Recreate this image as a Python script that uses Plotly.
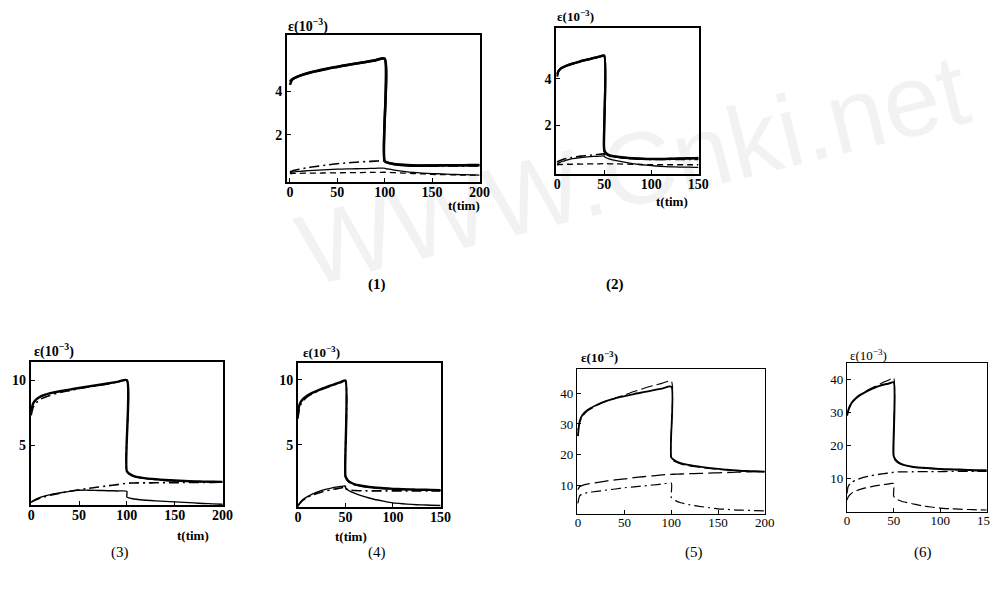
import plotly.graph_objects as go

W, H = 998, 594
OFF = 8  # page body margin that offsets the figure in the browser

# ---------------- data ----------------
# time grids (load then unload; repeated time marks the unloading jump)
T_200 = [0, 2, 5, 10, 20, 30, 40, 50, 60, 70, 80, 90, 100, 100, 105, 110, 120, 130, 140, 150, 160, 170, 180, 190, 200]
T_150 = [0, 1, 3, 5, 10, 15, 20, 25, 30, 35, 40, 45, 50, 50, 52, 55, 60, 70, 80, 90, 100, 110, 120, 130, 140, 150]

# panel (1)
E1_total = [4.3, 4.52, 4.62, 4.72, 4.86, 4.97, 5.06, 5.14, 5.22, 5.29, 5.36, 5.43, 5.5, 0.8, 0.7, 0.65, 0.6, 0.58, 0.58, 0.59, 0.6, 0.6, 0.6, 0.61, 0.61]
E1_model = [4.45, 4.55, 4.63, 4.72, 4.85, 4.95, 5.05, 5.13, 5.21, 5.29, 5.36, 5.44, 5.52, 0.78, 0.7, 0.66, 0.62, 0.6, 0.59, 0.59, 0.6, 0.6, 0.6, 0.6, 0.6]
E1_visc = [0.3, 0.33, 0.37, 0.42, 0.5, 0.56, 0.62, 0.67, 0.71, 0.74, 0.77, 0.79, 0.81, 0.79, 0.72, 0.66, 0.6, 0.57, 0.56, 0.56, 0.56, 0.57, 0.57, 0.57, 0.57]
E1_ve = [0.25, 0.28, 0.3, 0.32, 0.35, 0.38, 0.4, 0.42, 0.43, 0.44, 0.45, 0.46, 0.47, 0.46, 0.42, 0.38, 0.32, 0.27, 0.24, 0.22, 0.2, 0.18, 0.17, 0.16, 0.15]
E1_dash = [0.22, 0.22, 0.23, 0.23, 0.24, 0.24, 0.25, 0.25, 0.26, 0.26, 0.27, 0.27, 0.28, 0.28, 0.27, 0.26, 0.24, 0.22, 0.2, 0.18, 0.17, 0.16, 0.15, 0.15, 0.15]

# panel (2)
E2_total = [4.1, 4.3, 4.42, 4.48, 4.58, 4.65, 4.71, 4.77, 4.82, 4.87, 4.92, 4.97, 5.02, 0.95, 0.8, 0.72, 0.67, 0.62, 0.58, 0.56, 0.55, 0.55, 0.56, 0.57, 0.58, 0.6]
E2_model = [4.2, 4.32, 4.42, 4.48, 4.57, 4.64, 4.7, 4.76, 4.81, 4.86, 4.91, 4.96, 5.0, 0.9, 0.78, 0.7, 0.66, 0.61, 0.57, 0.55, 0.54, 0.54, 0.55, 0.56, 0.57, 0.58]
E2_visc = [0.4, 0.44, 0.48, 0.52, 0.57, 0.61, 0.64, 0.67, 0.69, 0.71, 0.73, 0.75, 0.77, 0.75, 0.72, 0.68, 0.64, 0.59, 0.56, 0.54, 0.53, 0.53, 0.53, 0.53, 0.53, 0.53]
E2_ve = [0.3, 0.35, 0.4, 0.44, 0.5, 0.55, 0.58, 0.61, 0.63, 0.65, 0.66, 0.67, 0.68, 0.66, 0.6, 0.55, 0.5, 0.42, 0.35, 0.3, 0.26, 0.23, 0.21, 0.2, 0.2, 0.19]
E2_dash = [0.3, 0.3, 0.31, 0.31, 0.32, 0.32, 0.33, 0.33, 0.33, 0.34, 0.34, 0.34, 0.35, 0.35, 0.35, 0.34, 0.34, 0.33, 0.32, 0.31, 0.3, 0.3, 0.3, 0.3, 0.3, 0.3]

# panel (3)
E3_total = [7.6, 8.2, 8.5, 8.75, 9.0, 9.15, 9.28, 9.4, 9.52, 9.63, 9.75, 9.87, 10.0, 3.0, 2.7, 2.56, 2.45, 2.38, 2.32, 2.28, 2.25, 2.22, 2.2, 2.19, 2.18]
E3_model = [7.3, 7.9, 8.25, 8.55, 8.85, 9.05, 9.2, 9.35, 9.48, 9.6, 9.72, 9.85, 9.97, 2.95, 2.68, 2.55, 2.44, 2.37, 2.3, 2.26, 2.23, 2.21, 2.19, 2.17, 2.16]
E3_visc = [0.62, 0.7, 0.8, 0.95, 1.15, 1.3, 1.45, 1.57, 1.68, 1.78, 1.88, 1.97, 2.08, 2.08, 2.09, 2.1, 2.1, 2.11, 2.12, 2.12, 2.13, 2.13, 2.14, 2.14, 2.15]
E3_ve = [0.62, 0.72, 0.85, 1.0, 1.2, 1.33, 1.45, 1.53, 1.54, 1.52, 1.5, 1.48, 1.45, 1.0, 0.9, 0.84, 0.77, 0.72, 0.68, 0.64, 0.6, 0.56, 0.52, 0.49, 0.46]

# panel (4)
E4_total = [7.3, 7.9, 8.3, 8.5, 8.8, 9.0, 9.15, 9.3, 9.45, 9.58, 9.7, 9.82, 9.95, 2.6, 2.3, 2.1, 1.95, 1.8, 1.7, 1.65, 1.6, 1.57, 1.55, 1.53, 1.52, 1.5]
E4_model = [7.0, 7.6, 8.1, 8.35, 8.7, 8.92, 9.1, 9.25, 9.4, 9.54, 9.67, 9.8, 9.93, 2.5, 2.25, 2.05, 1.9, 1.77, 1.68, 1.63, 1.58, 1.56, 1.54, 1.52, 1.5, 1.49]
E4_visc = [0.3, 0.4, 0.55, 0.7, 0.95, 1.12, 1.25, 1.36, 1.45, 1.53, 1.6, 1.66, 1.72, 1.62, 1.55, 1.5, 1.47, 1.45, 1.44, 1.44, 1.44, 1.44, 1.44, 1.44, 1.44, 1.44]
E4_ve = [0.25, 0.4, 0.6, 0.75, 1.0, 1.2, 1.35, 1.48, 1.58, 1.66, 1.73, 1.78, 1.82, 1.7, 1.55, 1.4, 1.25, 1.0, 0.8, 0.65, 0.52, 0.45, 0.4, 0.36, 0.34, 0.32]

# panel (5)
E5_total = [26.0, 31.0, 33.0, 34.5, 36.2, 37.5, 38.4, 39.1, 39.8, 40.4, 41.0, 41.6, 42.2, 19.0, 17.8, 17.2, 16.5, 16.0, 15.6, 15.3, 15.0, 14.8, 14.6, 14.5, 14.4]
E5_model = [28.0, 30.5, 32.5, 34.2, 36.0, 37.4, 38.5, 39.5, 40.6, 41.6, 42.5, 43.3, 44.0, 18.5, 17.5, 16.9, 16.2, 15.8, 15.4, 15.1, 14.9, 14.7, 14.5, 14.4, 14.3]
E5_dash = [8.5, 9.5, 9.9, 10.3, 10.8, 11.3, 11.7, 12.0, 12.4, 12.7, 13.0, 13.3, 13.5, 13.5, 13.55, 13.6, 13.7, 13.8, 13.9, 14.0, 14.1, 14.2, 14.3, 14.35, 14.4]
E5_dd = [4.0, 6.5, 7.1, 7.5, 7.9, 8.3, 8.7, 9.1, 9.4, 9.7, 10.0, 10.3, 10.6, 5.8, 4.8, 4.2, 3.5, 3.0, 2.6, 2.2, 2.0, 1.8, 1.7, 1.6, 1.5]

# panel (6)
E6_total = [29.2, 30.5, 32.0, 33.0, 34.5, 35.5, 36.3, 37.0, 37.6, 38.1, 38.5, 38.8, 39.2, 17.0, 15.8, 15.0, 14.3, 13.7, 13.4, 13.2, 13.0, 12.9, 12.8, 12.7, 12.6, 12.6]
E6_model = [29.0, 30.3, 31.8, 32.9, 34.4, 35.5, 36.4, 37.2, 37.9, 38.6, 39.3, 39.9, 40.5, 16.5, 15.5, 14.8, 14.2, 13.6, 13.3, 13.1, 12.9, 12.8, 12.7, 12.6, 12.5, 12.5]
E6_dd = [5.6, 7.6, 8.5, 9.0, 9.7, 10.2, 10.6, 10.9, 11.2, 11.4, 11.6, 11.8, 12.0, 12.0, 12.05, 12.1, 12.1, 12.15, 12.2, 12.2, 12.2, 12.25, 12.25, 12.3, 12.3, 12.3]
E6_dash = [3.6, 4.5, 5.2, 5.7, 6.4, 6.9, 7.3, 7.6, 7.9, 8.1, 8.3, 8.5, 8.6, 4.8, 4.2, 3.6, 3.1, 2.5, 1.9, 1.5, 1.2, 1.0, 0.85, 0.75, 0.65, 0.6]

# ticks and labels
X_TICKS_200 = [0, 50, 100, 150, 200]
X_TICKS_150 = [0, 50, 100, 150]
Y_TICKS = {1: [2, 4], 2: [2, 4], 3: [5, 10], 4: [5, 10], 5: [10, 20, 30, 40], 6: [10, 20, 30, 40]}
PANEL_LABELS = ["(1)", "(2)", "(3)", "(4)", "(5)", "(6)"]
Y_TITLE = "ε(10<sup>−3</sup>)"
X_TITLE = "t(tim)"
WATERMARK = "WWW.Cnki.net"

# ---------------- layout geometry (pixels, window coordinates) ----------------
frames = {1: (287, 483, 35, 182), 2: (560, 705, 28, 174), 3: (27, 222, 362, 505),
          4: (298, 443, 363, 507), 5: (581, 772, 369, 514), 6: (855, 997, 363, 512)}
xranges = {1: [-3, 201], 2: [-1, 151], 3: [-0.5, 200.5], 4: [0, 150.5], 5: [-1, 200.5], 6: [0, 150.5]}
yranges = {1: [-0.17, 6.6], 2: [-0.1, 6.2], 3: [0.4, 11.4], 4: [0.2, 11.3], 5: [0.5, 48], 6: [0, 45]}

def px(x):
    return (x - OFF) / W

def py(y):
    return 1 - (y - OFF) / H

fig = go.Figure()

def add(k, t, y, dash="solid", width=1.5):
    fig.add_trace(go.Scatter(x=t, y=y, mode="lines", xaxis=f"x{k}", yaxis=f"y{k}",
                             line=dict(color="black", width=width, dash=dash, shape="spline", smoothing=0.6),
                             showlegend=False, hoverinfo="skip"))

DD = "10px,4px,2px,4px"
# (1)
add(1, T_200, E1_dash, "6px,4px", 1.3)
add(1, T_200, E1_ve, "solid", 1.3)
add(1, T_200, E1_visc, DD, 1.6)
add(1, T_200, E1_model, "solid", 2.5)
add(1, T_200, E1_total, "solid", 2.5)
# (2)
add(2, T_150, E2_dash, "6px,4px", 1.3)
add(2, T_150, E2_ve, "solid", 1.3)
add(2, T_150, E2_visc, DD, 1.6)
add(2, T_150, E2_model, "solid", 2.3)
add(2, T_150, E2_total, "solid", 2.3)
# (3)
add(3, T_200, E3_ve, "solid", 1.4)
add(3, T_200, E3_visc, DD, 1.6)
add(3, T_200, E3_model, DD, 1.6)
add(3, T_200, E3_total, "solid", 2.4)
# (4)
add(4, T_150, E4_ve, "solid", 1.4)
add(4, T_150, E4_visc, DD, 1.6)
add(4, T_150, E4_model, DD, 1.6)
add(4, T_150, E4_total, "solid", 2.4)
# (5)
add(5, T_200, E5_dd, DD, 1.2)
add(5, T_200, E5_dash, "14px,5px", 1.3)
add(5, T_200, E5_model, "12px,4px", 1.1)
add(5, T_200, E5_total, "solid", 1.8)
# (6)
add(6, T_150, E6_dash, "10px,4px", 1.2)
add(6, T_150, E6_dd, DD, 1.3)
add(6, T_150, E6_model, "12px,4px", 1.1)
add(6, T_150, E6_total, "solid", 2.0)

layout = dict(width=W, height=H, margin=dict(l=0, r=0, t=0, b=0),
              paper_bgcolor="white", plot_bgcolor="rgba(0,0,0,0)", showlegend=False)

for k, (x0, x1, y0, y1) in frames.items():
    bold = k <= 4
    tf = dict(family="Liberation Serif", size=14 if bold else 13, color="black",
              weight="bold" if bold else "normal")
    lw = 2 if bold else 1.4
    xt = X_TICKS_200 if xranges[k][1] > 160 else X_TICKS_150
    layout[f"xaxis{k}"] = dict(domain=[px(x0), px(x1)], range=xranges[k], anchor=f"y{k}",
                               showline=True, mirror=True, linecolor="black", linewidth=lw,
                               ticks="inside", ticklen=4, tickwidth=1.3, tickcolor="black",
                               ticklabelstandoff=-4,
                               tickvals=xt, tickfont=tf, showgrid=False, zeroline=False, fixedrange=True)
    layout[f"yaxis{k}"] = dict(domain=[py(y1), py(y0)], range=yranges[k], anchor=f"x{k}",
                               showline=True, mirror=True, linecolor="black", linewidth=lw,
                               ticks="inside", ticklen=4, tickwidth=1.3, tickcolor="black",
                               tickvals=Y_TICKS[k], tickfont=tf, showgrid=False, zeroline=False, fixedrange=True)

ann = []
def txt(x, y, s, size=13, bold=True, color="black"):
    ann.append(dict(x=px(x), y=py(y), xref="paper", yref="paper", text=s, showarrow=False,
                    xanchor="center", yanchor="middle",
                    font=dict(family="Liberation Serif", size=size, color=color,
                              weight="bold" if bold else "normal")))

# watermark (faint)
ann.append(dict(x=px(638), y=py(170), xref="paper", yref="paper", text=WATERMARK,
                showarrow=False, textangle=-14, xanchor="center", yanchor="middle",
                font=dict(family="Liberation Sans", size=102, color="rgba(0,0,0,0.05)")))

# y titles
txt(308, 25, Y_TITLE, 14)
txt(580, 16, Y_TITLE, 13)
txt(51, 350, Y_TITLE, 14)
txt(322, 352, Y_TITLE, 13)
txt(604, 357, Y_TITLE, 13)
txt(877, 355, Y_TITLE, 13, bold=False)
# x titles
txt(466, 205, X_TITLE, 13)
txt(677, 201, X_TITLE, 13)
txt(192, 535, X_TITLE, 13)
txt(352, 536, X_TITLE, 13)
# panel labels
for (lx, ly), s in zip([(378, 284), (620, 284), (118, 552), (378, 552), (700, 552), (932, 552)], PANEL_LABELS):
    txt(lx, ly, s, 15, bold=(s in ("(1)", "(2)")))

layout["annotations"] = ann
fig.update_layout(**layout)
fig.write_html("out.html")
